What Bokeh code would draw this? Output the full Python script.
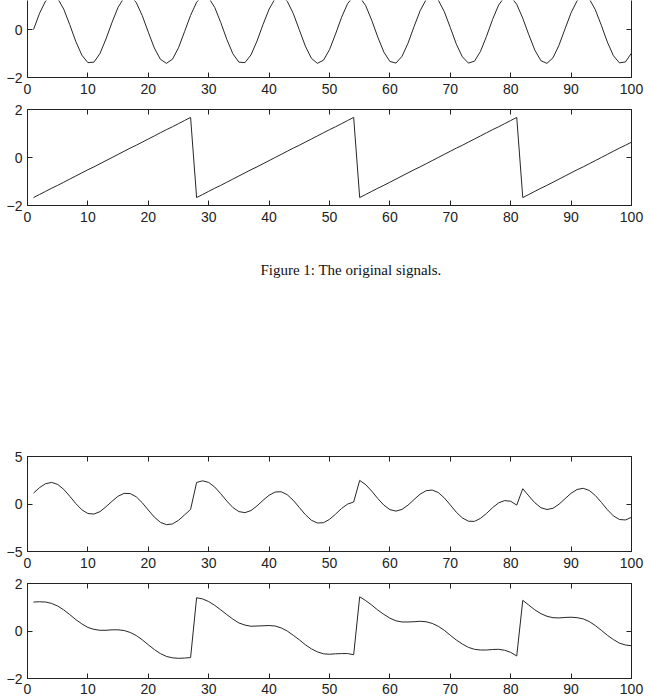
from bokeh.plotting import figure
from bokeh.models import Range1d, FixedTicker, LinearAxis, Label, Spacer
from bokeh.layouts import column
from bokeh.embed import file_html
from bokeh.resources import INLINE

t = list(range(1, 101))

sine = [0.00, 0.68, 1.19, 1.41, 1.29, 0.85, 0.20, -0.50, -1.07, -1.38,
        -1.36, -1.00, -0.39, 0.30, 0.93, 1.33, 1.40, 1.13, 0.58, -0.11,
        -0.77, -1.24, -1.41, -1.24, -0.76, -0.09, 0.59, 1.14, 1.40, 1.32,
        0.92, 0.29, -0.41, -1.01, -1.36, -1.38, -1.06, -0.48, 0.21, 0.85,
        1.29, 1.41, 1.18, 0.67, -0.01, -0.69, -1.20, -1.41, -1.28, -0.84,
        -0.19, 0.51, 1.08, 1.39, 1.35, 0.99, 0.38, -0.32, -0.94, -1.33,
        -1.40, -1.12, -0.57, 0.12, 0.78, 1.25, 1.41, 1.23, 0.75, 0.08,
        -0.61, -1.14, -1.40, -1.32, -0.91, -0.28, 0.42, 1.02, 1.36, 1.38,
        1.05, 0.47, -0.22, -0.86, -1.30, -1.41, -1.18, -0.65, 0.03, 0.70,
        1.20, 1.41, 1.28, 0.83, 0.18, -0.52, -1.09, -1.39, -1.35, -0.98]

sawtooth = [-1.67, -1.54, -1.41, -1.28, -1.16, -1.03, -0.90, -0.77, -0.64, -0.51,
            -0.39, -0.26, -0.13, 0.00, 0.13, 0.26, 0.39, 0.51, 0.64, 0.77,
            0.90, 1.03, 1.16, 1.28, 1.41, 1.54, 1.67,
            -1.67, -1.54, -1.41, -1.28, -1.16, -1.03, -0.90, -0.77, -0.64, -0.51,
            -0.39, -0.26, -0.13, 0.00, 0.13, 0.26, 0.39, 0.51, 0.64, 0.77,
            0.90, 1.03, 1.16, 1.28, 1.41, 1.54, 1.67,
            -1.67, -1.54, -1.41, -1.28, -1.16, -1.03, -0.90, -0.77, -0.64, -0.51,
            -0.39, -0.26, -0.13, 0.00, 0.13, 0.26, 0.39, 0.51, 0.64, 0.77,
            0.90, 1.03, 1.16, 1.28, 1.41, 1.54, 1.67,
            -1.67, -1.54, -1.41, -1.28, -1.16, -1.03, -0.90, -0.77, -0.64, -0.51,
            -0.39, -0.26, -0.13, 0.00, 0.13, 0.26, 0.39, 0.51, 0.64]

mixed1 = [1.15, 1.73, 2.14, 2.27, 2.06, 1.54, 0.82, 0.04, -0.61, -1.00,
          -1.06, -0.80, -0.29, 0.29, 0.82, 1.12, 1.10, 0.76, 0.13, -0.64,
          -1.38, -1.93, -2.18, -2.10, -1.72, -1.15, -0.57, 2.27, 2.44, 2.27,
          1.78, 1.08, 0.31, -0.37, -0.80, -0.91, -0.69, -0.20, 0.39, 0.92,
          1.26, 1.29, 0.98, 0.39, -0.36, -1.12, -1.71, -2.00, -1.97, -1.62,
          -1.07, -0.47, -0.01, 0.21, 2.48, 2.03, 1.35, 0.57, -0.12, -0.59,
          -0.75, -0.57, -0.12, 0.47, 1.03, 1.40, 1.47, 1.21, 0.65, -0.10,
          -0.87, -1.47, -1.81, -1.83, -1.51, -0.99, -0.39, 0.12, 0.36, 0.29,
          -0.12, 1.61, 0.85, 0.13, -0.39, -0.58, -0.45, -0.02, 0.56, 1.13,
          1.53, 1.65, 1.43, 0.90, 0.18, -0.60, -1.25, -1.63, -1.68, -1.40]

mixed2 = [1.22, 1.23, 1.22, 1.16, 1.05, 0.89, 0.69, 0.48, 0.30, 0.15,
          0.07, 0.03, 0.03, 0.05, 0.05, 0.02, -0.06, -0.19, -0.37, -0.58,
          -0.78, -0.95, -1.07, -1.13, -1.15, -1.14, -1.12, 1.40, 1.35, 1.24,
          1.08, 0.89, 0.69, 0.50, 0.34, 0.25, 0.20, 0.21, 0.22, 0.23,
          0.21, 0.13, 0.00, -0.18, -0.37, -0.58, -0.75, -0.88, -0.96, -0.98,
          -0.96, -0.95, -0.95, -1.00, 1.44, 1.28, 1.09, 0.88, 0.70, 0.54,
          0.43, 0.38, 0.38, 0.39, 0.41, 0.39, 0.32, 0.20, 0.03, -0.18,
          -0.38, -0.55, -0.69, -0.77, -0.80, -0.80, -0.78, -0.77, -0.81, -0.90,
          -1.05, 1.29, 1.09, 0.89, 0.73, 0.62, 0.56, 0.55, 0.57, 0.58,
          0.56, 0.51, 0.40, 0.23, 0.03, -0.18, -0.36, -0.51, -0.59, -0.62]

x_ticks = [0, 10, 20, 30, 40, 50, 60, 70, 80, 90, 100]
y_ticks_small = [-2, 0, 2]
y_ticks_large = [-5, 0, 5]
minus_labels = {-2: "\u22122", -5: "\u22125"}
caption_text = "Figure 1: The original signals."

FONT = "Liberation Sans"
INK = "#222222"


def style_axis(ax, ticks, labels=True):
    ax.ticker = FixedTicker(ticks=ticks)
    ax.major_tick_in = 5
    ax.major_tick_out = 0
    ax.minor_tick_in = 0
    ax.minor_tick_out = 0
    ax.axis_line_color = INK
    ax.major_tick_line_color = INK
    if labels:
        ax.major_label_text_font = FONT
        ax.major_label_text_font_size = "14px"
        ax.major_label_text_color = INK
        ax.major_label_overrides = minus_labels
    else:
        # tick marks only: labels are not painted and take almost no room
        ax.major_label_text_font_size = "1px"
        ax.major_label_text_color = None
        ax.major_label_standoff = 0


def make_panel(ys, y0, y1, yticks, height, top, bottom, right,
               top_axis=True, x_standoff=6):
    p = figure(width=650, height=height, output_backend="svg",
               toolbar_location=None, x_range=Range1d(0, 100),
               y_range=Range1d(y0, y1),
               min_border_left=27, min_border_right=right,
               min_border_top=top, min_border_bottom=bottom)
    p.grid.visible = False
    p.background_fill_color = "white"
    p.border_fill_color = "white"
    style_axis(p.xaxis[0], x_ticks, True)
    style_axis(p.yaxis[0], yticks, True)
    p.xaxis[0].major_label_standoff = x_standoff
    p.yaxis[0].major_label_standoff = 5
    ra = LinearAxis()
    style_axis(ra, yticks, False)
    p.add_layout(ra, "right")
    if top_axis:
        ta = LinearAxis()
        style_axis(ta, x_ticks, False)
        p.add_layout(ta, "above")
        p.outline_line_color = INK
    else:
        p.outline_line_color = None
    p.line(t, ys, line_color="#262626", line_width=1)
    return p


p1 = make_panel(sine, -2, 1.21, y_ticks_small, 101, 0, 24, 17, top_axis=False)
p2 = make_panel(sawtooth, -2, 2, y_ticks_small, 128, 8, 24, 17)

cap = figure(width=650, height=80, output_backend="svg", toolbar_location=None,
             x_range=Range1d(0, 1), y_range=Range1d(0, 1),
             x_axis_type=None, y_axis_type=None, min_border=0)
cap.grid.visible = False
cap.outline_line_color = None
cap.add_layout(Label(x=323.5, y=40, x_units="screen", y_units="screen",
                     text=caption_text, text_align="center",
                     text_baseline="middle", text_font="Liberation Serif",
                     text_font_size="15px", text_color="#111111"))

gap = Spacer(width=650, height=139)

p3 = make_panel(mixed1, -5, 5, y_ticks_large, 127, 8, 24, 19)
p4 = make_panel(mixed2, -2, 2, y_ticks_small, 124, 8, 21, 19, x_standoff=5)

layout = column(p1, p2, cap, gap, p3, p4, spacing=0)

open("out.html", "w").write(file_html(layout, INLINE))
